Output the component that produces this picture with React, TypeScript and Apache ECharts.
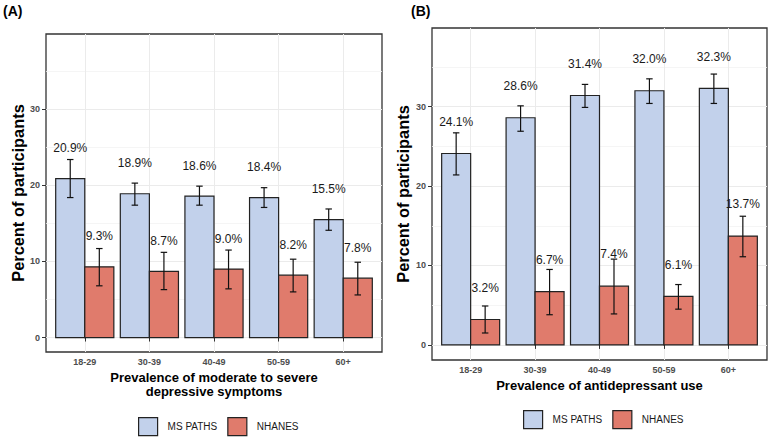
import React, { useEffect, useRef } from "react";
import * as echarts from "echarts";

const categories = ["18-29", "30-39", "40-49", "50-59", "60+"];

// Panel A: moderate to severe depressive symptoms
const depMS = [20.9, 18.9, 18.6, 18.4, 15.5];
const depMSLo = [18.4, 17.4, 17.4, 17.1, 14.1];
const depMSHi = [23.4, 20.3, 19.9, 19.7, 16.9];
const depNH = [9.3, 8.7, 9.0, 8.2, 7.8];
const depNHLo = [6.8, 6.3, 6.4, 6.0, 5.6];
const depNHHi = [11.7, 11.2, 11.5, 10.3, 9.9];

// Panel B: antidepressant use
const adMS = [24.1, 28.6, 31.4, 32.0, 32.3];
const adMSLo = [21.4, 26.9, 29.9, 30.4, 30.4];
const adMSHi = [26.7, 30.1, 32.8, 33.5, 34.1];
const adNH = [3.2, 6.7, 7.4, 6.1, 13.7];
const adNHLo = [1.5, 3.8, 3.9, 4.5, 11.1];
const adNHHi = [4.9, 9.5, 10.8, 7.6, 16.2];

const yMajorTicks = [0, 10, 20, 30];
const yMinorTicks = [5, 15, 25, 35];
const xTicks = [1, 2, 3, 4, 5];

const FONT = "Liberation Sans, Arial, Helvetica, sans-serif";
const BLUE = "#C2D1EB";
const RED = "#E07B6C";
const EDGE = "#222222";

function makeSeries(
  name: string,
  panel: number,
  vals: number[],
  lo: number[],
  hi: number[],
  color: string,
  off: number
) {
  return {
    type: "custom",
    name,
    xAxisIndex: panel,
    yAxisIndex: panel * 2,
    itemStyle: { color, borderColor: EDGE, borderWidth: 1 },
    data: vals.map((v, i) => [i + 1, v, lo[i], hi[i]]),
    renderItem: (params: any, api: any) => {
      const x = api.value(0);
      const v = api.value(1);
      const l = api.value(2);
      const h = api.value(3);
      const left = x + off;
      const c = left + 0.225;
      const tl = api.coord([left, v]);
      const br = api.coord([left + 0.45, 0]);
      const top = api.coord([c, h]);
      const bot = api.coord([c, l]);
      const capL = api.coord([c - 0.05, h])[0];
      const capR = api.coord([c + 0.05, h])[0];
      const lab = api.coord([c, v + 4]);
      return {
        type: "group",
        children: [
          {
            type: "rect",
            shape: { x: tl[0], y: tl[1], width: br[0] - tl[0], height: br[1] - tl[1] },
            style: { fill: color, stroke: EDGE, lineWidth: 1.2 },
          },
          {
            type: "line",
            shape: { x1: top[0], y1: top[1], x2: bot[0], y2: bot[1] },
            style: { stroke: "#111", lineWidth: 1.2 },
          },
          {
            type: "line",
            shape: { x1: capL, y1: top[1], x2: capR, y2: top[1] },
            style: { stroke: "#111", lineWidth: 1.2 },
          },
          {
            type: "line",
            shape: { x1: capL, y1: bot[1], x2: capR, y2: bot[1] },
            style: { stroke: "#111", lineWidth: 1.2 },
          },
          {
            type: "text",
            x: lab[0],
            y: lab[1],
            style: {
              text: v.toFixed(1) + "%",
              textAlign: "center",
              textVerticalAlign: "middle",
              fontSize: 12,
              fontFamily: FONT,
              fill: "#1a1a1a",
            },
          },
        ],
      };
    },
  };
}

function xAxisFor(panel: number, name: string) {
  return {
    type: "value",
    gridIndex: panel,
    min: 0.4,
    max: 5.6,
    name,
    nameLocation: "middle",
    nameGap: 16,
    nameTextStyle: {
      fontFamily: FONT,
      fontWeight: "bold",
      fontSize: 13,
      color: "#000",
      lineHeight: 14,
    },
    axisLine: { show: false },
    axisTick: {
      show: true,
      customValues: xTicks,
      length: 4,
      lineStyle: { color: "#333", width: 1 },
    },
    axisLabel: {
      customValues: xTicks,
      formatter: (v: number) => categories[Math.round(v) - 1] ?? "",
      margin: 5,
      fontFamily: FONT,
      fontSize: 9,
      fontWeight: "bold",
      color: "#4D4D4D",
    },
    splitLine: { show: true, lineStyle: { color: "#EBEBEB", width: 1 } },
  };
}

function yAxesFor(panel: number, gap: number) {
  return [
    {
      type: "value",
      gridIndex: panel,
      min: -1.9,
      max: 39.9,
      name: "Percent of participants",
      nameLocation: "middle",
      nameGap: gap,
      nameTextStyle: {
        fontFamily: FONT,
        fontWeight: "bold",
        fontSize: 16.4,
        color: "#000",
      },
      axisLine: { show: false },
      axisTick: {
        show: true,
        customValues: yMajorTicks,
        length: 4,
        lineStyle: { color: "#333", width: 1 },
      },
      axisLabel: {
        customValues: yMajorTicks,
        margin: 6,
        fontFamily: FONT,
        fontSize: 9,
        fontWeight: "bold",
        color: "#4D4D4D",
      },
      splitLine: { show: true, lineStyle: { color: "#EBEBEB", width: 1 } },
    },
    {
      type: "value",
      gridIndex: panel,
      min: -1.9,
      max: 39.9,
      axisLine: { show: false },
      axisTick: { show: false, customValues: yMinorTicks },
      axisLabel: { show: false, customValues: yMinorTicks },
      splitLine: { show: true, lineStyle: { color: "#F3F3F3", width: 0.8 } },
    },
  ];
}

function legendFor(left: number, top: number) {
  return {
    left,
    top,
    orient: "horizontal",
    icon: "rect",
    itemWidth: 19,
    itemHeight: 18,
    itemGap: 10,
    itemStyle: { borderColor: EDGE, borderWidth: 1.2 },
    textStyle: {
      fontFamily: FONT,
      fontSize: 10,
      color: "#1a1a1a",
      padding: [0, 0, 0, 5],
    },
    data: ["MS PATHS", "NHANES"],
    selectedMode: false,
  };
}

export default function App() {
  const ref = useRef<HTMLDivElement>(null);
  useEffect(() => {
    if (!ref.current) return;
    const chart = echarts.init(ref.current, undefined, { renderer: "svg" });
    chart.setOption({
      animation: false,
      backgroundColor: "#fff",
      textStyle: { fontFamily: FONT },
      grid: [
        {
          left: 46,
          top: 34,
          width: 336,
          height: 318,
          show: true,
          borderColor: "#333",
          borderWidth: 1.3,
          backgroundColor: "transparent",
        },
        {
          left: 432,
          top: 28,
          width: 335,
          height: 332,
          show: true,
          borderColor: "#333",
          borderWidth: 1.3,
          backgroundColor: "transparent",
        },
      ],
      xAxis: [
        xAxisFor(0, "Prevalence of moderate to severe\ndepressive symptoms"),
        xAxisFor(1, "Prevalence of antidepressant use"),
      ],
      yAxis: [...yAxesFor(0, 20), ...yAxesFor(1, 21)],
      legend: [legendFor(133, 412), legendFor(518, 405)],
      graphic: [
        {
          type: "text",
          left: 3,
          top: 4,
          style: { text: "(A)", fontFamily: FONT, fontWeight: "bold", fontSize: 14, fill: "#000" },
        },
        {
          type: "text",
          left: 411,
          top: 4,
          style: { text: "(B)", fontFamily: FONT, fontWeight: "bold", fontSize: 14, fill: "#000" },
        },
      ],
      series: [
        makeSeries("MS PATHS", 0, depMS, depMSLo, depMSHi, BLUE, -0.45),
        makeSeries("NHANES", 0, depNH, depNHLo, depNHHi, RED, 0),
        makeSeries("MS PATHS", 1, adMS, adMSLo, adMSHi, BLUE, -0.45),
        makeSeries("NHANES", 1, adNH, adNHLo, adNHHi, RED, 0),
      ],
    });
    return () => chart.dispose();
  }, []);
  return (
    <div
      ref={ref}
      style={{ position: "fixed", left: 0, top: 0, width: 774, height: 440, background: "#fff" }}
    />
  );
}
